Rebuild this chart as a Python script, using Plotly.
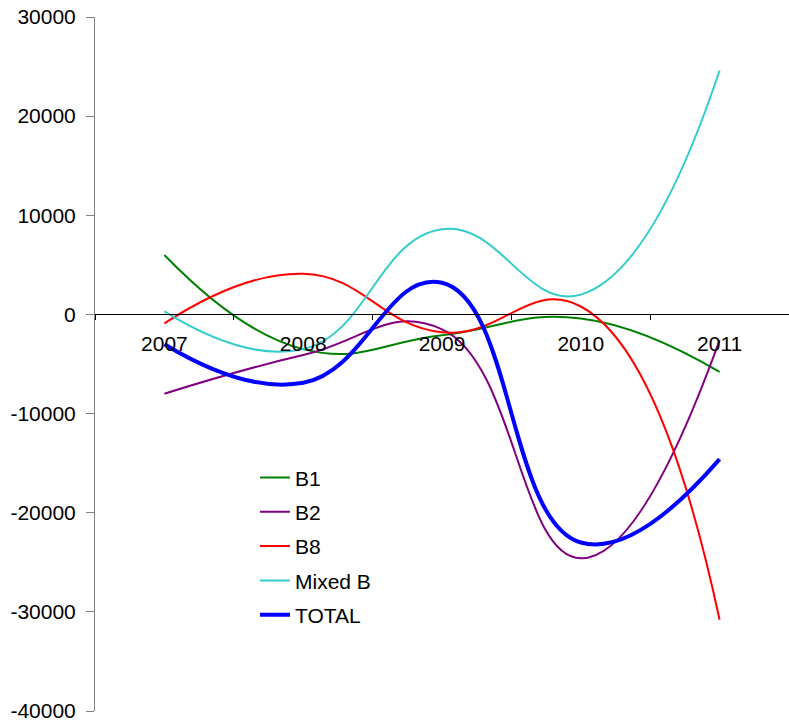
import plotly.graph_objects as go

years = ["2007", "2008", "2009", "2010", "2011"]
b1 = [6000, -3500, -2100, -400, -5800]
b2 = [-8000, -4100, -1500, -24600, -2600]
b8 = [-900, 4100, -1800, 800, -30800]
mixed_b = [300, -3500, 8600, 2000, 24600]
total = [-3000, -6900, 3200, -23000, -14600]

y_ticks = [30000, 20000, 10000, 0, -10000, -20000, -30000, -40000]
y_tick_text = [str(v) for v in y_ticks]

series = [
    ("B1", b1, "#008000", 2),
    ("B2", b2, "#800080", 2),
    ("B8", b8, "#FF0000", 2),
    ("Mixed B", mixed_b, "#33CCCC", 2),
    ("TOTAL", total, "#0000FF", 4),
]

fig = go.Figure()
for name, vals, color, w in series:
    fig.add_trace(go.Scatter(
        x=years, y=vals, name=name, mode="lines",
        line=dict(color=color, width=w, shape="spline", smoothing=1.3),
        legendgroup=name,
    ))

font = dict(family="Liberation Sans, Arial, sans-serif", size=21, color="black")

fig.update_layout(
    width=789, height=723,
    margin=dict(l=95, r=0, t=17, b=12),
    paper_bgcolor="white", plot_bgcolor="white",
    font=font,
    showlegend=True,
    legend=dict(
        x=0.2305, y=0.3655, xanchor="left", yanchor="top",
        bgcolor="rgba(0,0,0,0)", font=font, tracegroupgap=4,
    ),
    xaxis=dict(
        type="category", range=[-0.5, 4.5],
        anchor="free", position=4 / 7,
        showline=True, linecolor="black", linewidth=1,
        ticks="outside", tickson="boundaries", ticklen=5, tickcolor="black",
        showgrid=False, zeroline=False,
        tickfont=font, ticklabelstandoff=10,
    ),
    yaxis=dict(
        range=[-40000, 30000],
        tickvals=y_ticks, ticktext=y_tick_text,
        showline=True, linecolor="#808080", linewidth=1,
        ticks="outside", ticklen=8, tickcolor="#808080",
        showgrid=False, zeroline=False,
        tickfont=font, ticklabelstandoff=6,
    ),
)

fig.write_html("out.html")
